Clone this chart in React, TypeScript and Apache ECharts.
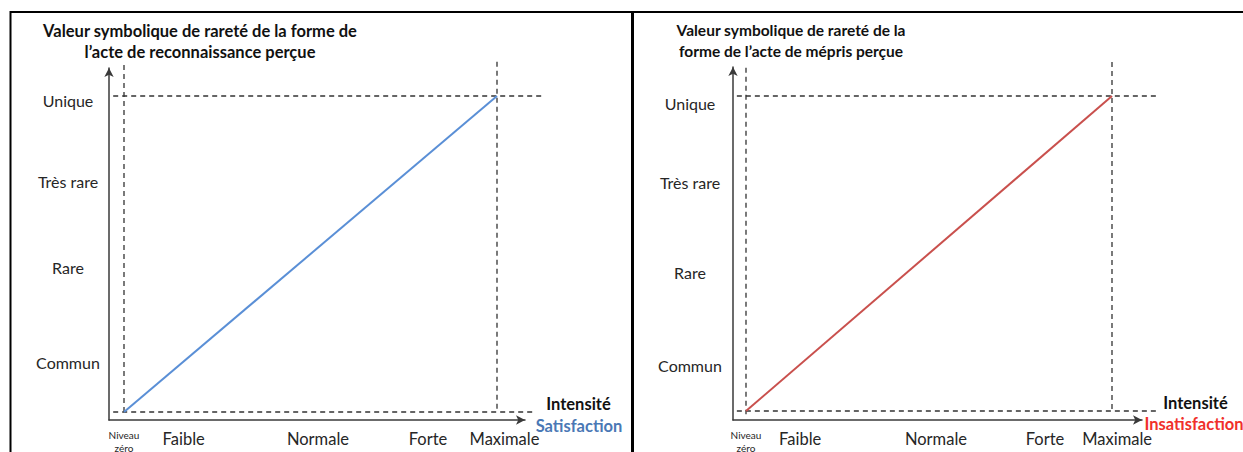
import React, { useEffect, useRef } from "react";
import * as echarts from "echarts";

// ---- data ----
const xLabelNames = ["Niveau\nzéro", "Faible", "Normale", "Forte", "Maximale"];
const xLabelPosLeft = [0, 16, 52, 81.5, 102];
const xLabelPosRight = [0, 14.8, 51.9, 81.7, 101.4];
const yLabelNames = ["Commun", "Rare", "Très rare", "Unique"];
const yLabelPosLeft = [15.8, 45.6, 73.1, 98.7];
const yLabelPosRight = [14.3, 44.1, 72.4, 97.5];

const satisfactionLine = [
  [0, 0],
  [100, 100],
];
const insatisfactionLine = [
  [0, 0],
  [100, 100],
];

// dashed reference lines: [x1, y1, x2, y2]
const refLinesLeft = [
  [-2.9, 0, 110.2, 0],
  [-2.9, 100, 112, 100],
  [0, 109.8, 0, -0.9],
  [100, 110.8, 100, 0],
];
const refLinesRight = [
  [-2.5, 0, 112.6, 0],
  [-2.5, 100, 112.6, 100],
  [0, 109, 0, -1],
  [100, 110.8, 100, 0],
];

const titleLeft = ["Valeur symbolique de rareté de la forme de", "l’acte de reconnaissance perçue"];
const titleRight = ["Valeur symbolique de rareté de la", "forme de l’acte de mépris perçue"];

const FONT = "Lato, 'Open Sans', sans-serif";
const AXIS_COLOR = "#3a3a3a";
const LABEL_COLOR = "#262626";

// ---- layout (pixels) ----
type Panel = {
  x0: number; x100: number; y0: number; y100: number; // pixel of value 0 / 100
  left: number; right: number; top: number; bottom: number; // visible axes extent
  hl: number; hr: number; ht: number; hb: number; // hidden grid extent
};
const panelL: Panel = { x0: 124, x100: 497, y0: 412, y100: 96, left: 109, right: 525, top: 68, bottom: 420, hl: 95, hr: 570, ht: 45, hb: 440 };
const panelR: Panel = { x0: 746, x100: 1112, y0: 411, y100: 96, left: 733, right: 1142, top: 67, bottom: 420, hl: 715, hr: 1190, ht: 45, hb: 440 };

function ranges(p: Panel, l: number, r: number, t: number, b: number) {
  const kx = (p.x100 - p.x0) / 100;
  const ky = (p.y0 - p.y100) / 100;
  return {
    grid: { left: l, top: t, width: r - l, height: b - t, containLabel: false, outerBoundsMode: "none" },
    xmin: (l - p.x0) / kx,
    xmax: (r - p.x0) / kx,
    ymin: (p.y0 - b) / ky,
    ymax: (p.y0 - t) / ky,
  };
}

function xAxisFor(gridIndex: number, min: number, max: number, pos: number[]) {
  return {
    type: "value",
    gridIndex,
    min,
    max,
    splitLine: { show: false },
    axisTick: { show: false },
    axisLine: {
      show: true,
      onZero: false,
      symbol: ["none", "arrow"],
      symbolSize: [7, 9],
      lineStyle: { color: AXIS_COLOR, width: 1.5 },
    },
    axisLabel: {
      show: true,
      customValues: pos,
      margin: 8,
      fontFamily: FONT,
      color: LABEL_COLOR,
      formatter: (v: number) => {
        const i = pos.indexOf(v);
        if (i < 0) return "";
        if (i === 0) return "{s|Niveau}\n{s|zéro}";
        return "{n|" + xLabelNames[i] + "}";
      },
      rich: {
        s: { fontSize: 10, lineHeight: 13, fontFamily: FONT, color: LABEL_COLOR },
        n: { fontSize: 16.5, lineHeight: 22, fontFamily: FONT, color: LABEL_COLOR },
      },
    },
  };
}

function yAxisFor(gridIndex: number, min: number, max: number, pos: number[], margin: number) {
  return {
    type: "value",
    gridIndex,
    min,
    max,
    splitLine: { show: false },
    axisTick: { show: false },
    axisLine: {
      show: true,
      onZero: false,
      symbol: ["none", "arrow"],
      symbolSize: [7, 9],
      lineStyle: { color: AXIS_COLOR, width: 1.5 },
    },
    axisLabel: {
      show: true,
      customValues: pos,
      margin,
      align: "center",
      fontFamily: FONT,
      fontSize: 16,
      color: LABEL_COLOR,
      formatter: (v: number) => {
        const i = pos.indexOf(v);
        return i < 0 ? "" : yLabelNames[i];
      },
    },
  };
}

function hiddenAxis(gridIndex: number, min: number, max: number) {
  return { type: "value", gridIndex, min, max, show: false, splitLine: { show: false } };
}

function refSeries(lines: number[][], idx: number) {
  return lines.map((l) => ({
    type: "line",
    xAxisIndex: idx,
    yAxisIndex: idx,
    data: [
      [l[0], l[1]],
      [l[2], l[3]],
    ],
    clip: false,
    symbol: "none",
    silent: true,
    lineStyle: { color: "#333", width: 1.3, type: [5, 4] },
    z: 1,
  }));
}

function titleTexts(lines: string[], cx: number, y0: number, size: number) {
  return lines.map((t, i) => ({
    type: "text",
    x: cx,
    y: y0 + i * 21,
    style: {
      text: t,
      fontFamily: FONT,
      fontWeight: "bold",
      fontSize: size,
      fill: "#111",
      align: "center",
      verticalAlign: "middle",
    },
  }));
}

function sideText(text: string, x: number, y: number, fill: string) {
  return {
    type: "text",
    x,
    y,
    style: { text, fontFamily: FONT, fontWeight: "bold", fontSize: 16.5, fill, align: "center", verticalAlign: "middle" },
  };
}

export default function App() {
  const ref = useRef<HTMLDivElement>(null);
  useEffect(() => {
    if (!ref.current) return;
    const chart = echarts.init(ref.current, undefined, { renderer: "svg" });
    const vL = ranges(panelL, panelL.left, panelL.right, panelL.top, panelL.bottom);
    const vR = ranges(panelR, panelR.left, panelR.right, panelR.top, panelR.bottom);
    const hL = ranges(panelL, panelL.hl, panelL.hr, panelL.ht, panelL.hb);
    const hR = ranges(panelR, panelR.hl, panelR.hr, panelR.ht, panelR.hb);
    chart.setOption({
      animation: false,
      backgroundColor: "#fff",
      grid: [vL.grid, vR.grid, hL.grid, hR.grid],
      xAxis: [
        xAxisFor(0, vL.xmin, vL.xmax, xLabelPosLeft),
        xAxisFor(1, vR.xmin, vR.xmax, xLabelPosRight),
        hiddenAxis(2, hL.xmin, hL.xmax),
        hiddenAxis(3, hR.xmin, hR.xmax),
      ],
      yAxis: [
        yAxisFor(0, vL.ymin, vL.ymax, yLabelPosLeft, 41),
        yAxisFor(1, vR.ymin, vR.ymax, yLabelPosRight, 43),
        hiddenAxis(2, hL.ymin, hL.ymax),
        hiddenAxis(3, hR.ymin, hR.ymax),
      ],
      series: [
        ...refSeries(refLinesLeft, 2),
        ...refSeries(refLinesRight, 3),
        {
          type: "line",
          name: "Satisfaction",
          xAxisIndex: 0,
          yAxisIndex: 0,
          data: satisfactionLine,
          symbol: "none",
          lineStyle: { color: "#5A8FD6", width: 2 },
          z: 3,
        },
        {
          type: "line",
          name: "Insatisfaction",
          xAxisIndex: 1,
          yAxisIndex: 1,
          data: insatisfactionLine,
          symbol: "none",
          lineStyle: { color: "#C9504D", width: 2 },
          z: 3,
        },
      ],
      graphic: [
        { type: "line", shape: { x1: 10, y1: 12, x2: 1243, y2: 12 }, style: { stroke: "#000", lineWidth: 2 } },
        { type: "line", shape: { x1: 10.5, y1: 11, x2: 10.5, y2: 452 }, style: { stroke: "#000", lineWidth: 2 } },
        { type: "line", shape: { x1: 632.5, y1: 11, x2: 632.5, y2: 452 }, style: { stroke: "#000", lineWidth: 3 } },
        ...titleTexts(titleLeft, 200, 31, 16.5),
        ...titleTexts(titleRight, 791, 30, 15.5),
        sideText("Intensité", 578.5, 404, "#111"),
        sideText("Satisfaction", 579, 426, "#4A78B5"),
        sideText("Intensité", 1195.5, 403, "#111"),
        sideText("Insatisfaction", 1194, 424, "#F0302A"),
      ],
    });
    return () => chart.dispose();
  }, []);
  return (
    <div
      ref={ref}
      style={{ position: "fixed", left: 0, top: 0, width: 1243, height: 452 }}
    />
  );
}
